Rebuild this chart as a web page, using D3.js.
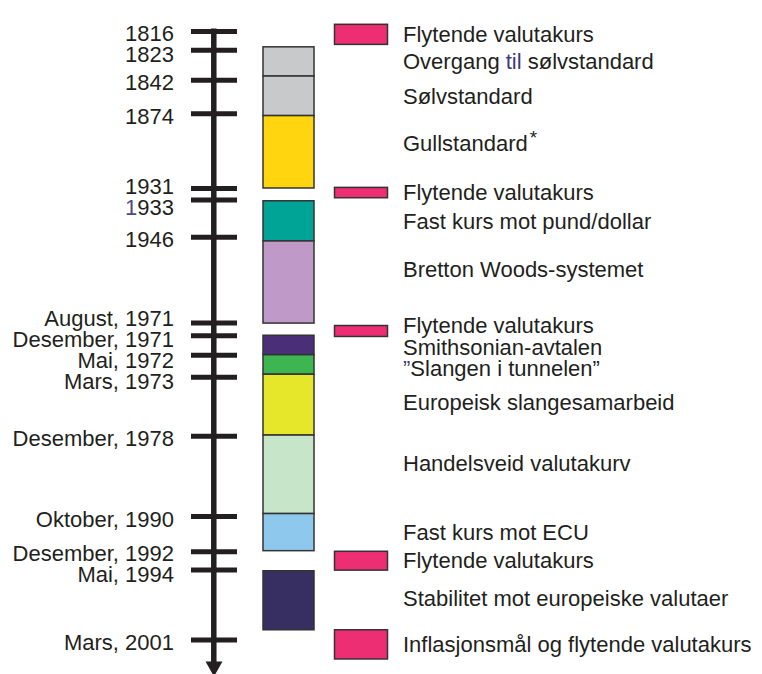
<!DOCTYPE html>
<html>
<head>
<meta charset="utf-8">
<script src="https://cdn.jsdelivr.net/npm/d3@7"></script>
<style>
  body { margin: 0; background: #fff; }
  text { font-family: "Liberation Sans", Arial, sans-serif; font-size: 22px; fill: #231f20; }
</style>
</head>
<body>
<div id="chart"></div>
<script>
// schematic timeline: positions are read off the picture on a 0-100 scale (not linear in time)
const tickLabels = ["1816", "1823", "1842", "1874", "1931", "1933", "1946",
  "August, 1971", "Desember, 1971", "Mai, 1972", "Mars, 1973", "Desember, 1978",
  "Oktober, 1990", "Desember, 1992", "Mai, 1994", "Mars, 2001"];
const tickPos = [0, 3.1, 8.0, 13.5, 25.8, 27.7, 33.8, 47.9, 50.0, 53.2, 56.8, 66.5, 79.7, 85.5, 88.5, 100];

// exchange-rate regimes (middle column)
const regimeNames = ["Overgang til sølvstandard", "Sølvstandard", "Gullstandard", "Fast kurs mot pund/dollar",
  "Bretton Woods-systemet", "Smithsonian-avtalen", "”Slangen i tunnelen”", "Europeisk slangesamarbeid",
  "Handelsveid valutakurv", "Fast kurs mot ECU", "Stabilitet mot europeiske valutaer"];
const regimeStart = [2.6, 7.4, 13.9, 27.9, 34.5, 50.0, 53.2, 56.4, 66.4, 79.3, 88.7];
const regimeEnd = [7.4, 13.9, 25.8, 34.5, 48.0, 53.2, 56.4, 66.4, 79.3, 85.4, 98.4];
const regimeColors = ["#c8c9cb", "#c8c9cb", "#ffd510", "#00a496", "#bf9ac9", "#4a2f78",
  "#3db551", "#e6e62a", "#c6e5c9", "#8ec8ec", "#372e61"];

// floating-rate periods (right column, pink)
const floatNames = ["Flytende valutakurs", "Flytende valutakurs", "Flytende valutakurs",
  "Flytende valutakurs", "Inflasjonsmål og flytende valutakurs"];
const floatStart = [-1.1, 25.7, 48.4, 85.5, 98.4];
const floatEnd = [2.2, 27.4, 50.2, 88.6, 103.2];
const floatColor = "#ee2e72";

const width = 762, height = 674;
const svg = d3.select("#chart").append("svg")
  .attr("width", width)
  .attr("height", height);

const y = d3.scaleLinear().domain([0, 100]).range([31, 639.5]);

// push overlapping labels apart, keeping each group centred on its anchors
function spread(ys, gap) {
  const groups = [];
  ys.forEach(function(v, i) {
    groups.push({sum: v, n: 1, top: v, idx: [i]});
    while (groups.length > 1) {
      const a = groups[groups.length - 2], b = groups[groups.length - 1];
      if (b.top >= a.top + a.n * gap) break;
      a.sum += b.sum; a.n += b.n; a.idx = a.idx.concat(b.idx);
      a.top = a.sum / a.n - (a.n - 1) * gap / 2;
      groups.pop();
    }
  });
  const out = [];
  groups.forEach(function(g) { g.idx.forEach(function(i, k) { out[i] = g.top + k * gap; }); });
  return out;
}

// axis ticks
const axisG = svg.append("g")
  .attr("transform", "translate(191,0)")
  .call(d3.axisRight(y).tickValues(tickPos).tickSize(46).tickSizeOuter(0).tickFormat(""));
axisG.select(".domain").remove();
axisG.selectAll(".tick line").attr("stroke", "#231f20").attr("stroke-width", 5);

// main vertical line + arrow
const yEnd = y.range()[1];
svg.append("line")
  .attr("x1", 213.8).attr("x2", 213.8)
  .attr("y1", y(0) - 2.5).attr("y2", yEnd + 24)
  .attr("stroke", "#231f20").attr("stroke-width", 5.5);
svg.append("path")
  .attr("d", d3.line()([[205.5, yEnd + 22], [222.5, yEnd + 22], [214, yEnd + 37]]) + "Z")
  .attr("fill", "#231f20");

// tick labels
const leftY = spread(tickPos.map(function(d) { return y(d) + 3; }), 21);
svg.append("g").selectAll("text")
  .data(tickLabels)
  .join("text")
  .attr("x", 174)
  .attr("y", function(d, i) { return leftY[i]; })
  .attr("dy", "0.35em")
  .attr("text-anchor", "end")
  .each(function(d) {
    const t = d3.select(this);
    if (d === "1933") {
      t.append("tspan").style("fill", "#4b4a8a").text("1");
      t.append("tspan").text("933");
    } else {
      t.text(d);
    }
  });

// regime bars
svg.append("g").selectAll("rect")
  .data(regimeNames)
  .join("rect")
  .attr("x", 263)
  .attr("width", 51)
  .attr("y", function(d, i) { return y(regimeStart[i]); })
  .attr("height", function(d, i) { return y(regimeEnd[i]) - y(regimeStart[i]); })
  .attr("fill", function(d, i) { return regimeColors[i]; })
  .attr("stroke", "#333")
  .attr("stroke-width", 1.5);

// floating bars
svg.append("g").selectAll("rect")
  .data(floatNames)
  .join("rect")
  .attr("x", 334.5)
  .attr("width", 53)
  .attr("y", function(d, i) { return y(floatStart[i]); })
  .attr("height", function(d, i) { return y(floatEnd[i]) - y(floatStart[i]); })
  .attr("fill", floatColor)
  .attr("stroke", "#333")
  .attr("stroke-width", 1.5);

// right-hand texts, ordered top to bottom (tall bars get their text near the top)
function anchor(s, e) {
  const top = y(s), h = y(e) - y(s);
  return top + Math.min(h / 2, 28);
}
const rightItems = regimeNames.map(function(d, i) {
  return {name: d, mid: anchor(regimeStart[i], regimeEnd[i])};
}).concat(floatNames.map(function(d, i) {
  return {name: d, mid: anchor(floatStart[i], floatEnd[i])};
})).sort(function(a, b) { return a.mid - b.mid; });
const rightY = spread(rightItems.map(function(d) { return d.mid; }), 21.5);

svg.append("g").selectAll("text")
  .data(rightItems)
  .join("text")
  .attr("x", 403)
  .attr("y", function(d, i) { return rightY[i]; })
  .attr("dy", "0.35em")
  .each(function(d) {
    const t = d3.select(this);
    if (d.name === "Overgang til sølvstandard") {
      t.append("tspan").text("Overgang ");
      t.append("tspan").style("fill", "#3d3a7a").text("til");
      t.append("tspan").text(" sølvstandard");
    } else if (d.name === "Gullstandard") {
      t.append("tspan").text("Gullstandard");
      t.append("tspan").attr("dy", -7).attr("dx", 2).style("font-size", "19px").text("*");
    } else if (d.name.startsWith("”")) {
      t.append("tspan").style("fill", "#3d3a7a").text("”");
      t.append("tspan").text(d.name.slice(1));
    } else {
      t.text(d.name);
    }
  });
</script>
</body>
</html>
